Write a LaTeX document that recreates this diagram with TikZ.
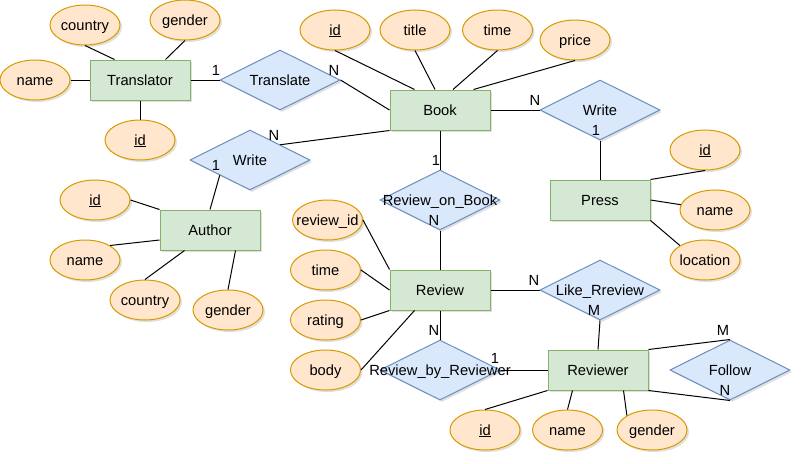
\documentclass[tikz,border=0pt]{standalone}
\usepackage{fontspec}
\setmainfont{Liberation Sans}
\usetikzlibrary{shapes.geometric, shadows}

\definecolor{entfill}{HTML}{D5E8D4}
\definecolor{entline}{HTML}{82B366}
\definecolor{attfill}{HTML}{FFE6CC}
\definecolor{attline}{HTML}{D79B00}
\definecolor{relfill}{HTML}{DAE8FC}
\definecolor{relline}{HTML}{6C8EBF}

\tikzset{
	shade/.style={drop shadow={shadow xshift=2pt, shadow yshift=-2pt, opacity=.25, fill=gray}},
	entity/.style={rectangle, draw=entline, fill=entfill, minimum width=100pt, minimum height=40pt, inner sep=0pt, shade},
	attr/.style={ellipse, draw=attline, fill=attfill, minimum width=70pt, minimum height=40pt, inner sep=0pt, shade},
	rel/.style={diamond, draw=relline, fill=relfill, minimum width=120pt, minimum height=60pt, inner sep=0pt, shade},
	card/.style={inner sep=0pt}
}

\begin{document}
\begin{tikzpicture}[x=1pt, y=-1pt, line width=1pt, font=\fontsize{14.7}{17}\selectfont,
	nodes={text height=13.3pt, text depth=3.1pt}]
	\useasboundingbox (0,0) rectangle (802,463);
	% Translator
	\node[entity] (tr) at (140,80) {Translator};
	\node[attr, label=center:country] (trc) at (85,25) {};
	\node[attr, label=center:gender] (trg) at (185,20) {};
	\node[attr, label=center:name] (trn) at (35,80) {};
	\node[attr, label=center:{\underline{id}}] (tri) at (140,140) {};
	\node[rel, label=center:Translate] (trans) at (280,80) {};
	% Book
	\node[entity] (bk) at (440,110) {Book};
	\node[attr, label=center:{\underline{id}}] (bki) at (335,30) {};
	\node[attr, label=center:title] (bkt) at (415,30) {};
	\node[attr, label=center:time] (bkm) at (497.5,30) {};
	\node[attr, label=center:price] (bkp) at (575,40) {};
	\node[rel, label=center:Write] (wrb) at (250,160) {};
	\node[rel, label=center:Write] (wrp) at (600,110) {};
	\node[rel, label=center:Review\_on\_Book] (rob) at (440,200) {};
	% Author
	\node[entity] (au) at (210,230) {Author};
	\node[attr, label=center:{\underline{id}}] (aui) at (95,200) {};
	\node[attr, label=center:name] (aun) at (85,260) {};
	\node[attr, label=center:country] (auc) at (145,300) {};
	\node[attr, label=center:gender] (aug) at (228,310) {};
	% Press
	\node[entity] (pr) at (600,200) {Press};
	\node[attr, label=center:{\underline{id}}] (pri) at (705,150) {};
	\node[attr, label=center:name] (prn) at (715,210) {};
	\node[attr, label=center:location] (prl) at (705,260) {};
	% Review
	\node[entity] (rv) at (440,290) {Review};
	\node[attr, label=center:review\_id] (rvi) at (327.5,220) {};
	\node[attr, label=center:time] (rvt) at (325.5,270) {};
	\node[attr, label=center:rating] (rvr) at (325.5,320) {};
	\node[attr, label=center:body] (rvb) at (325.5,370) {};
	\node[rel, label=center:Like\_Rreview] (lk) at (600,290) {};
	\node[rel, label=center:Review\_by\_Reviewer] (rbr) at (440,370) {};
	% Reviewer
	\node[entity] (rw) at (598,370) {Reviewer};
	\node[attr, label=center:{\underline{id}}] (rwi) at (485,430) {};
	\node[attr, label=center:name] (rwn) at (567.5,430) {};
	\node[attr, label=center:gender] (rwg) at (652,430) {};
	\node[rel, label=center:Follow] (fl) at (730,370) {};

	\draw (trc.south) edge ([xshift=25pt]tr.north west)
	(trg.south) edge ([xshift=-25pt]tr.north east)
	(trn) edge (tr)
	(tr) edge (tri)
	(tr) edge (trans)
	(trans.east) edge (bk.west)
	(bki.south) edge ([xshift=25pt]bk.north west)
	(bkt.south) edge ([xshift=-5pt]bk.north)
	(bkm.south) edge ([xshift=13pt]bk.north)
	(bkp.south) edge ([xshift=-17pt]bk.north east)
	(wrb.north east) edge (bk.south west)
	(wrb.south west) edge (au.north)
	(bk) edge (wrp)
	(wrp) edge (pr)
	(bk) edge (rob)
	(rob) edge (rv)
	(aui.east) edge (au.north west)
	(aun.north east) edge ([yshift=-10pt]au.west)
	(auc.north) edge ([xshift=25pt]au.south west)
	(aug.north) edge ([xshift=-25pt]au.south east)
	(pri.south) edge (pr.north east)
	(pr.east) edge (prn)
	(pr.south east) edge (prl.north west)
	(rvi.east) edge (rv.north west)
	(rvt.east) edge (rv.west)
	(rvr.east) edge (rv.south west)
	(rvb.east) edge ([xshift=25pt]rv.south west)
	(rv) edge (lk)
	(lk.south) edge (rw.north)
	(rv) edge (rbr)
	(rbr) edge (rw)
	(rwi.north) edge (rw.south west)
	(rwn.north) edge ([xshift=25pt]rw.south west)
	(rwg.north west) edge ([xshift=-25pt]rw.south east)
	(rw.north east) edge (fl.north)
	(rw.south east) edge (fl.south);

	% cardinalities
	\node[card] (trans1) at (216,70) {1};
	\node[card] (transN) at (334,70) {N};
	\node[card] (wrbN) at (274,135) {N};
	\node[card] (wrb1) at (216,165) {1};
	\node[card] (wrpN) at (535,100) {N};
	\node[card] (wrp1) at (596,130) {1};
	\node[card] (rob1) at (436,160) {1};
	\node[card] (robN) at (434,220) {N};
	\node[card] (lkN) at (534,280) {N};
	\node[card] (lkM) at (594,310) {M};
	\node[card] (rbrN) at (434,330) {N};
	\node[card] (rbr1) at (495,358) {1};
	\node[card] (flM) at (723,330) {M};
	\node[card] (flN) at (725,390) {N};
\end{tikzpicture}
\end{document}
